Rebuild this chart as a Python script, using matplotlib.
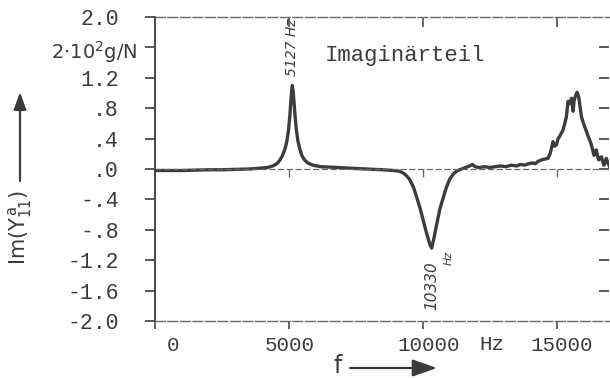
"""Imaginary part of the admittance Y11a over frequency (scanned plot redraw)."""
import matplotlib

matplotlib.use("Agg")
import matplotlib.pyplot as plt
from matplotlib.patches import FancyArrowPatch
from matplotlib.transforms import ScaledTranslation

INK = "#3c3c3c"
FRAME = "#6a6a6a"

# --- data ------------------------------------------------------------------ #
freq_hz = [
    0, 500, 1000, 1500, 2000, 2500, 3000, 3500, 3900, 4200,
    4400, 4550, 4650, 4750, 4850, 4920, 4980, 5030, 5070, 5100,
    5127, 5155, 5185, 5225, 5270, 5330, 5400, 5480, 5580, 5700,
    5900, 6200, 6800, 7300, 7900, 8500, 8900, 9140, 9300, 9420,
    9510, 9650, 9760, 9900, 10010, 10150, 10260, 10330, 10420, 10510,
    10640, 10760, 10880, 11010, 11150, 11300, 11450, 11600, 11750, 11850,
    11950, 12100, 12300, 12500, 12700, 12900, 13100, 13300, 13500, 13650,
    13800, 13950, 14100, 14200, 14300, 14430, 14550, 14670, 14750, 14800,
    14860, 14920, 14990, 15050, 15110, 15170, 15230, 15300, 15360, 15420,
    15480, 15550, 15610, 15640, 15670, 15720, 15760, 15820, 15870, 15920,
    15980, 16040, 16100, 16170, 16230, 16290, 16340, 16390, 16440, 16480,
    16520, 16570, 16620, 16670, 16720, 16760, 16810, 16850, 16920, 16980,
]
im_value = [
    -0.02, -0.02, -0.02, -0.015, -0.01, -0.01, -0.005, 0.0, 0.01, 0.02,
    0.04, 0.07, 0.11, 0.17, 0.26, 0.36, 0.50, 0.68, 0.88, 1.02,
    1.10, 1.03, 0.90, 0.72, 0.54, 0.38, 0.27, 0.18, 0.12, 0.08,
    0.05, 0.03, 0.02, 0.01, 0.0, -0.01, -0.02, -0.03, -0.06, -0.10,
    -0.14, -0.24, -0.36, -0.52, -0.67, -0.86, -0.99, -1.04, -0.90, -0.74,
    -0.52, -0.38, -0.24, -0.13, -0.06, -0.02, 0.0, 0.02, 0.04, 0.06,
    0.03, 0.02, 0.03, 0.02, 0.03, 0.04, 0.03, 0.05, 0.04, 0.06,
    0.05, 0.07, 0.08, 0.07, 0.10, 0.12, 0.13, 0.14, 0.20, 0.27,
    0.36, 0.30, 0.32, 0.40, 0.43, 0.47, 0.51, 0.60, 0.69, 0.89,
    0.86, 0.93, 0.76, 0.88, 0.93, 0.98, 1.01, 0.95, 0.82, 0.69,
    0.62, 0.56, 0.50, 0.43, 0.38, 0.32, 0.25, 0.18, 0.24, 0.25,
    0.17, 0.12, 0.15, 0.16, 0.09, 0.05, 0.10, 0.14, 0.07, 0.03,
]

x_ticks = [0, 5000, 10000, 15000]
x_labels = ["0", "5000", "10000", "15000"]
y_ticks = [2.0, 1.6, 1.2, 0.8, 0.4, 0.0, -0.4, -0.8, -1.2, -1.6, -2.0]
y_labels = ["2.0", "", "1.2", ".8", ".4", ".0", "-.4", "-.8", "-1.2", "-1.6", "-2.0"]
peak_freqs = [5127, 10330]

# --- figure ---------------------------------------------------------------- #
fig = plt.figure(figsize=(6.10, 3.78), dpi=100)
ax = fig.add_axes([155 / 610, 1 - 321 / 378, 454 / 610, 304 / 378])

ax.plot(freq_hz, im_value, color=INK, lw=2.4, solid_joinstyle="round")
ax.axhline(0, color=FRAME, lw=0.9, ls=(0, (5, 2)))
ax.vlines(x_ticks[1:], -0.1, 0, color=FRAME, lw=1.0)

ax.set_xlim(0, 16950)
ax.set_ylim(-2, 2)

ax.spines["right"].set_visible(False)
ax.spines["left"].set_color(INK); ax.spines["left"].set_linewidth(1.3)
for s in ("top", "bottom"):
    ax.spines[s].set_color(FRAME)
    ax.spines[s].set_linewidth(1.0)
    ax.spines[s].set_linestyle((0, (7, 2)))

mono = "Liberation Mono"
ax.set_yticks(y_ticks)
ax.set_yticklabels(y_labels, family=mono, fontsize=15.5, color=INK)
ax.set_xticks(x_ticks)
ax.set_xticklabels(x_labels, family=mono, fontsize=15, color=INK)
ax.tick_params(axis="y", direction="out", length=7, width=1.2, pad=19, color=INK)
ax.tick_params(axis="x", direction="out", length=6, width=1.1, pad=5, color=INK)

# inward ticks on the right and top edges
right = ax.secondary_yaxis("right")
right.set_yticks(y_ticks[1:-1])
right.tick_params(direction="in", length=7, width=1.2, color=INK, labelright=False)
right.spines["right"].set_visible(False)
top = ax.secondary_xaxis("top")
top.set_xticks(x_ticks[1:])
top.tick_params(direction="in", length=7, width=1.1, color=INK, labeltop=False)
top.spines["top"].set_visible(False)

shifts = [18, 1, 6, 5]
for lbl, dx in zip(ax.get_xticklabels(), shifts):
    lbl.set_transform(lbl.get_transform() + ScaledTranslation(dx / 100, 0, fig.dpi_scale_trans))

# --- annotations ----------------------------------------------------------- #
ax.text(0.55, 0.875, "Imaginärteil", transform=ax.transAxes, family=mono,
        fontsize=16, color=INK, ha="center", va="center")
ax.text(peak_freqs[0], 1.23, "5127 Hz", rotation=90, ha="center", va="bottom",
        fontsize=10, style="italic", color=INK)
ax.text(peak_freqs[1], -1.22, "10330", rotation=90, ha="center", va="top",
        fontsize=11, style="italic", color=INK)
ax.text(peak_freqs[1] + 650, -1.08, "Hz", rotation=90, ha="center", va="top",
        fontsize=8, style="italic", color=INK)

fig.text(137 / 610, 1 - 52 / 378, r"2$\cdot$10$^{2}$g/N", ha="right", va="center",
         fontsize=14, color=INK)
fig.text(492 / 610, 1 - 344 / 378, "Hz", ha="center", va="center",
         family=mono, fontsize=15, color=INK)
fig.text(338 / 610, 1 - 366 / 378, "f", ha="center", va="center",
         fontsize=17, color=INK)
fig.text(20 / 610, 1 - 227 / 378, r"I$\mathrm{m}$(Y$_{11}^{\,\mathrm{a}}$)", rotation=90,
         ha="center", va="center", fontsize=15, color=INK)

fig.add_artist(FancyArrowPatch(
    (350 / 610, 1 - 368 / 378), (437 / 610, 1 - 368 / 378),
    transform=fig.transFigure, color=INK, lw=1.6, mutation_scale=15,
    arrowstyle="-|>,head_length=1.0,head_width=0.35", shrinkA=0, shrinkB=0))
fig.add_artist(FancyArrowPatch(
    (20 / 610, 1 - 181 / 378), (20 / 610, 1 - 92 / 378),
    transform=fig.transFigure, color=INK, lw=1.6, mutation_scale=15,
    arrowstyle="-|>,head_length=0.7,head_width=0.25", shrinkA=0, shrinkB=0))

fig.savefig("out.png", dpi=100)
